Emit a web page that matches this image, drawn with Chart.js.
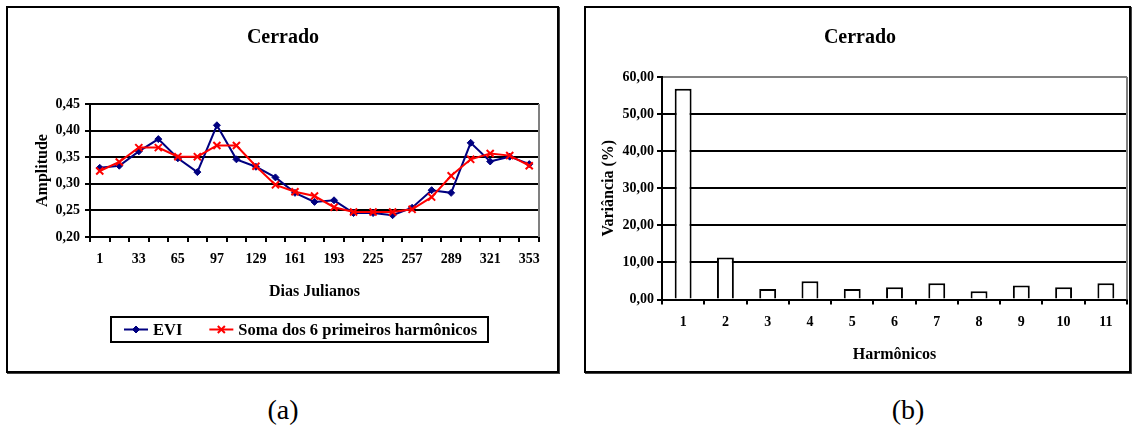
<!DOCTYPE html>
<html>
<head>
<meta charset="utf-8">
<script src="https://cdn.jsdelivr.net/npm/chart.js@4.4.1/dist/chart.umd.min.js"></script>
<style>
  html, body { margin: 0; padding: 0; background: #fff; overflow: hidden; width: 1132px; height: 430px; }
  canvas { position: absolute; }
  .frame { position: absolute; border: 2px solid #000; box-sizing: border-box; box-shadow: 1px 1px 0 #444; pointer-events: none; }
  .cap { position: absolute; font-family: 'Liberation Serif', 'Times New Roman', serif; font-size: 28px; line-height: 1; transform: translate(-50%, -50%); color: #000; }
</style>
</head>
<body>
<canvas id="eviChart" width="551" height="365" style="left:7px;top:7px"></canvas>
<div class="frame" style="left:6px;top:6px;width:553px;height:367px"></div>
<canvas id="varChart" width="545" height="365" style="left:585px;top:7px"></canvas>
<div class="frame" style="left:584px;top:6px;width:547px;height:367px"></div>
<div class="cap" style="left:283px;top:410px">(a)</div>
<div class="cap" style="left:908px;top:410px">(b)</div>

<script>
// ---- data: EVI time series (Cerrado) ----
const julianDays = ['1', '17', '33', '49', '65', '81', '97', '113', '129', '145', '161', '177',
                    '193', '209', '225', '241', '257', '273', '289', '305', '321', '337', '353'];
const eviValues = [0.330, 0.334, 0.361, 0.384, 0.348, 0.322, 0.410, 0.346, 0.332, 0.312, 0.283, 0.266,
                   0.269, 0.245, 0.245, 0.241, 0.255, 0.288, 0.283, 0.377, 0.342, 0.351, 0.337];
const harmonicSum = [0.324, 0.341, 0.368, 0.368, 0.351, 0.351, 0.372, 0.372, 0.333, 0.298, 0.285, 0.277,
                     0.256, 0.247, 0.247, 0.247, 0.252, 0.275, 0.315, 0.346, 0.357, 0.353, 0.334];
const amplitudeTicks = [0.20, 0.25, 0.30, 0.35, 0.40, 0.45];

// ---- data: variance explained by each harmonic ----
const harmonics = ['1', '2', '3', '4', '5', '6', '7', '8', '9', '10', '11'];
const varianceValues = [56.8, 11.3, 2.8, 4.9, 2.8, 3.3, 4.4, 2.2, 3.8, 3.3, 4.4];
const varianceTicks = [0, 10, 20, 30, 40, 50, 60];

const FONT = "'Liberation Serif', 'Times New Roman', serif";
Chart.defaults.font.family = FONT;
Chart.defaults.font.weight = 'bold';
Chart.defaults.color = '#000';

const commaFmt = v => Number(v).toFixed(2).replace('.', ',');

// gray outline on the right side of the plot area
const plotFrame = {
  id: 'plotFrame',
  beforeDatasetsDraw(chart) {
    const { ctx, chartArea: a } = chart;
    ctx.save();
    ctx.strokeStyle = '#808080';
    ctx.lineWidth = 2;
    ctx.beginPath();
    ctx.moveTo(Math.round(a.right), a.top);
    ctx.lineTo(Math.round(a.right), a.bottom);
    ctx.stroke();
    ctx.restore();
  }
};

// boxed legend with line + marker samples
function drawMarker(ctx, style, x, y, r, color, bw) {
  ctx.save();
  ctx.strokeStyle = color;
  ctx.fillStyle = color;
  ctx.lineWidth = bw;
  ctx.beginPath();
  if (style === 'rectRot') {
    ctx.moveTo(x, y - r); ctx.lineTo(x + r, y); ctx.lineTo(x, y + r); ctx.lineTo(x - r, y);
    ctx.closePath(); ctx.fill(); ctx.stroke();
  } else {
    const d = r * Math.SQRT1_2;
    ctx.moveTo(x - d, y - d); ctx.lineTo(x + d, y + d);
    ctx.moveTo(x + d, y - d); ctx.lineTo(x - d, y + d);
    ctx.stroke();
  }
  ctx.restore();
}

const boxedLegend = {
  id: 'boxedLegend',
  afterDraw(chart, args, opts) {
    const { ctx, chartArea: a } = chart;
    const x0 = Math.round(a.left + opts.dx), y0 = Math.round(a.bottom + opts.dy), h = opts.height;
    const cy = y0 + h / 2;
    ctx.save();
    ctx.font = `bold ${opts.size}px ${FONT}`;
    ctx.textBaseline = 'middle';
    ctx.textAlign = 'left';
    let x = x0 + 13;
    chart.data.datasets.forEach(ds => {
      ctx.strokeStyle = ds.borderColor;
      ctx.lineWidth = ds.borderWidth;
      ctx.beginPath();
      ctx.moveTo(x, cy); ctx.lineTo(x + 24, cy);
      ctx.stroke();
      drawMarker(ctx, ds.pointStyle, x + 12, cy, ds.pointRadius, ds.pointBorderColor, ds.pointBorderWidth);
      ctx.fillStyle = '#000';
      ctx.fillText(ds.label, x + 29, cy + 1);
      x = x + 29 + ctx.measureText(ds.label).width + 27;
    });
    const w = Math.round((x - 27 + 11) - x0);
    ctx.strokeStyle = '#000';
    ctx.lineWidth = 2;
    ctx.strokeRect(x0, y0, w, h);
    ctx.restore();
  }
};

// ---- chart (a): EVI and harmonic reconstruction ----
new Chart(document.getElementById('eviChart'), {
  type: 'line',
  data: {
    labels: julianDays,
    datasets: [
      {
        label: 'EVI',
        data: eviValues,
        borderColor: '#000080',
        borderWidth: 2,
        pointStyle: 'rectRot',
        pointRadius: 3.5,
        pointBackgroundColor: '#000080',
        pointBorderColor: '#000080',
        pointBorderWidth: 1,
        tension: 0,
        order: 1
      },
      {
        label: 'Soma dos 6 primeiros harmônicos',
        data: harmonicSum,
        borderColor: '#ff0000',
        borderWidth: 2,
        pointStyle: 'crossRot',
        pointRadius: 5,
        pointBackgroundColor: '#ff0000',
        pointBorderColor: '#ff0000',
        pointBorderWidth: 2,
        tension: 0,
        order: 0
      }
    ]
  },
  options: {
    responsive: false,
    animation: false,
    events: [],
    layout: { padding: { left: 20, right: 19, top: 0, bottom: 70.4 } },
    plugins: {
      legend: { display: false },
      tooltip: { enabled: false },
      title: {
        display: true, text: 'Cerrado', color: '#000',
        font: { size: 20, weight: 'bold' },
        padding: { top: 19, bottom: 54 }
      },
      boxedLegend: { dx: 21, dy: 80, height: 25, size: 16.5 }
    },
    scales: {
      x: {
        offset: true,
        afterFit(scale) { scale.height = 64.6; },
        grid: { offset: true, drawOnChartArea: false, drawTicks: true, tickLength: 5, color: '#000', lineWidth: 2 },
        border: { color: '#000', width: 2 },
        ticks: {
          autoSkip: false, maxRotation: 0, padding: 8.6, font: { size: 14 },
          callback(v, i) { return i % 2 === 0 ? julianDays[i] : ''; }
        },
        title: { display: true, text: 'Dias Julianos', font: { size: 16, weight: 'bold' }, padding: { top: 0, bottom: 0 } }
      },
      y: {
        min: 0.20, max: 0.45,
        afterFit(scale) { scale.width = 63; },
        afterBuildTicks(scale) { scale.ticks = amplitudeTicks.map(v => ({ value: v })); },
        grid: { color: '#000', lineWidth: 2, drawTicks: true, tickLength: 5 },
        border: { color: '#000', width: 2 },
        ticks: { padding: 5, font: { size: 14 }, callback: v => commaFmt(v) },
        title: { display: true, text: 'Amplitude', font: { size: 16, weight: 'bold' }, padding: { top: 6.4, bottom: 0 } }
      }
    }
  },
  plugins: [plotFrame, boxedLegend]
});

// ---- chart (b): variance per harmonic ----
new Chart(document.getElementById('varChart'), {
  type: 'bar',
  data: {
    labels: harmonics,
    datasets: [{
      label: 'Variância',
      data: varianceValues,
      backgroundColor: '#ffffff',
      borderColor: '#000000',
      borderWidth: 2,
      borderSkipped: 'bottom',
      barPercentage: 0.4,
      categoryPercentage: 1.0
    }]
  },
  options: {
    responsive: false,
    animation: false,
    events: [],
    layout: { padding: { left: 8, right: 3, top: 0, bottom: 7.4 } },
    plugins: {
      legend: { display: false },
      tooltip: { enabled: false },
      title: {
        display: true, text: 'Cerrado', color: '#000',
        font: { size: 20, weight: 'bold' },
        padding: { top: 18.5, bottom: 27.5 }
      }
    },
    scales: {
      x: {
        z: 1,
        afterFit(scale) { scale.height = 65.1; },
        grid: { offset: true, drawOnChartArea: false, drawTicks: true, tickLength: 5, color: '#000', lineWidth: 2 },
        border: { color: '#000', width: 2 },
        ticks: { maxRotation: 0, padding: 9, font: { size: 14 } },
        title: { display: true, text: 'Harmônicos', font: { size: 16, weight: 'bold' }, padding: { top: 0, bottom: 0 } }
      },
      y: {
        min: 0, max: 60,
        afterFit(scale) { scale.width = 69; },
        afterBuildTicks(scale) { scale.ticks = varianceTicks.map(v => ({ value: v })); },
        grid: {
          color: c => (c.tick && c.tick.value === 60 ? '#808080' : '#000'),
          tickColor: '#000', lineWidth: 2, drawTicks: true, tickLength: 5
        },
        border: { color: '#000', width: 2 },
        ticks: { padding: 3, font: { size: 14 }, callback: v => commaFmt(v) },
        title: { display: true, text: 'Variância (%)', font: { size: 16, weight: 'bold' }, padding: { top: 6.4, bottom: 0 } }
      }
    }
  },
  plugins: [plotFrame]
});
</script>
</body>
</html>
